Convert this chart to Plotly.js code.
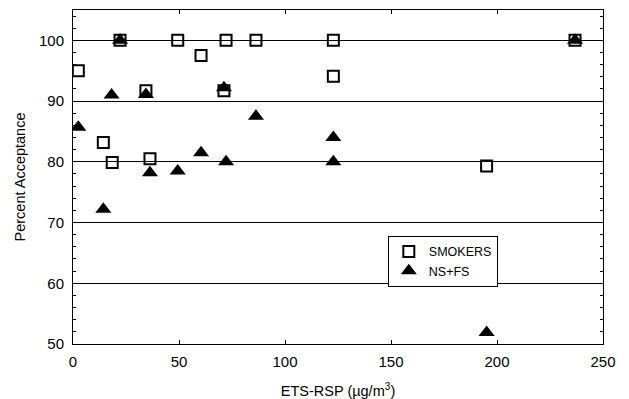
<!DOCTYPE html>
<html><head><meta charset="utf-8">
<script src="https://cdn.plot.ly/plotly-3.0.1.min.js"></script>
<style>html,body{margin:0;padding:0;background:#fff}#chart{width:629px;height:399px}</style>
</head><body><div id="chart"></div>
<script>
const smokersX = [2.5, 22.2, 49.4, 60.4, 72.2, 86.3, 122.8, 122.8, 34.4, 71.2, 14.3, 18.5, 36.3, 236.8, 195.1];
const smokersY = [95.0, 100, 100, 97.5, 100, 100, 100, 94.1, 91.7, 91.7, 83.2, 79.9, 80.5, 100, 79.3];
const nsfsX = [22.2, 18.2, 34.4, 71.2, 2.5, 86.3, 122.8, 122.8, 60.4, 72.2, 36.3, 49.4, 14.3, 236.8, 195.1];
const nsfsY = [100, 91.0, 91.1, 92.2, 85.7, 87.5, 84.0, 80.0, 81.5, 80.0, 78.2, 78.5, 72.2, 100, 51.9];
const seriesNames = ['SMOKERS', 'NS+FS'];
const xTitle = 'ETS-RSP (µg/m<sup>3</sup>)';
const yTitle = 'Percent Acceptance';

const traces = [
  {x: smokersX, y: smokersY, name: seriesNames[0], type: 'scatter', mode: 'markers',
   marker: {symbol: 'square-open', size: 11, color: 'black', line: {width: 2, color: 'black'}}},
  {x: nsfsX, y: nsfsY, name: seriesNames[1], type: 'scatter', mode: 'markers',
   marker: {symbol: 'triangle-up', size: 14, color: 'black'}}
];
const fam = 'Liberation Sans, Arial, sans-serif';
const tickFont = {family: fam, size: 15, color: 'black'};
const titleFont = {family: fam, size: 14.5, color: 'black'};
const layout = {
  width: 629, height: 399,
  margin: {l: 73, r: 26, t: 10, b: 55},
  paper_bgcolor: 'white', plot_bgcolor: 'white',
  font: titleFont,
  showlegend: true,
  legend: {x: 0.594, y: 0.324, xanchor: 'left', yanchor: 'top', bordercolor: 'black', borderwidth: 1,
           bgcolor: 'white', font: {family: fam, size: 12.5, color: 'black'}, tracegroupgap: 0},
  xaxis: {range: [0, 250], dtick: 50, tick0: 0, showgrid: false, zeroline: false,
          showline: true, linecolor: 'black', linewidth: 1, mirror: 'ticks',
          ticks: 'inside', ticklen: 4, tickcolor: 'black', ticklabelstandoff: 4,
          tickfont: tickFont,
          title: {text: xTitle, font: titleFont, standoff: 18}},
  yaxis: {range: [50, 105], dtick: 10, tick0: 50, showgrid: true, gridcolor: 'black', gridwidth: 1,
          zeroline: false, showline: true, linecolor: 'black', linewidth: 1, mirror: 'ticks',
          ticks: 'inside', ticklen: 4, tickcolor: 'black', ticklabelstandoff: 5,
          tickfont: tickFont,
          minor: {dtick: 2, ticks: 'inside', ticklen: 3, tickcolor: 'black', showgrid: false},
          title: {text: yTitle, font: titleFont, standoff: 9}}
};
Plotly.newPlot('chart', traces, layout, {displayModeBar: false, staticPlot: true});
</script></body></html>
